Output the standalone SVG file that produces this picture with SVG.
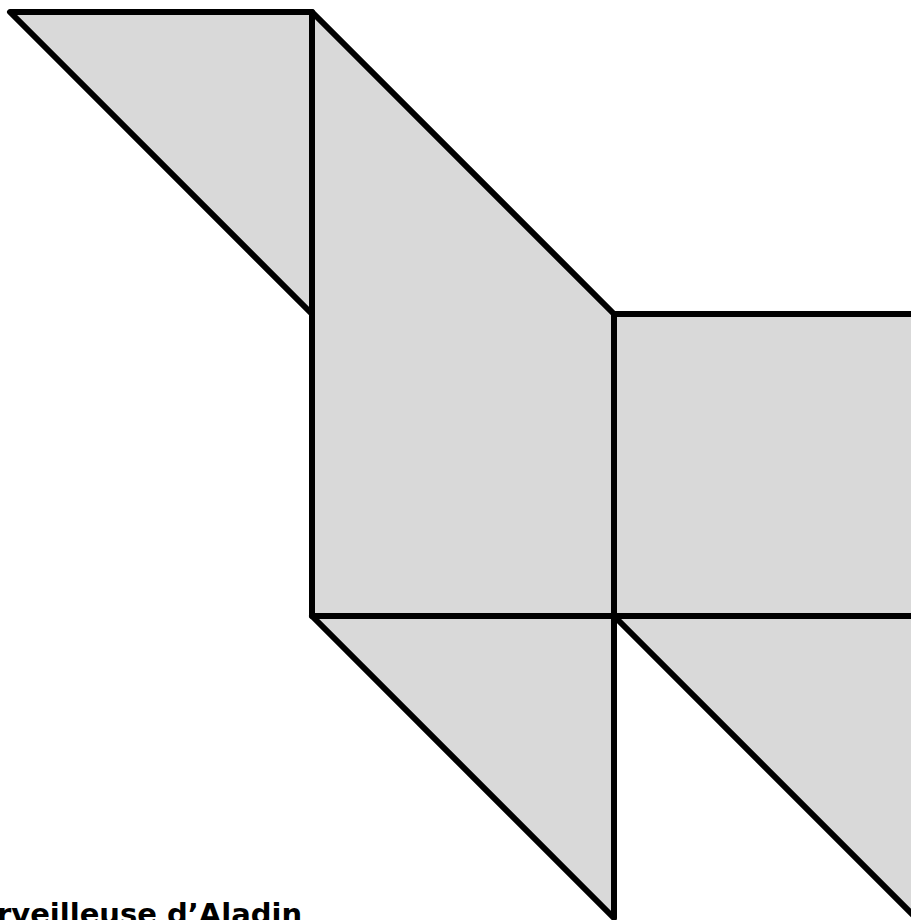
<svg xmlns="http://www.w3.org/2000/svg" width="911" height="920" viewBox="0 0 911 920">
<style>
.p{fill:#d9d9d9;stroke:#000;stroke-width:6;stroke-linejoin:round}
.t{font-family:"DejaVu Sans",Verdana,sans-serif;font-weight:bold;font-size:29px;fill:#000}
</style>
<rect width="911" height="920" fill="#fff"/>
<g id="piece-top-triangle"><polygon class="p" points="10,12 312,12 312,314"/></g>
<g id="piece-trapezoid"><polygon class="p" points="312,12 614,314 614,616 312,616"/></g>
<g id="piece-square"><polygon class="p" points="614,314 930,314 930,616 614,616"/></g>
<g id="piece-bottom-left-triangle"><polygon class="p" points="312,616 614,616 614,918"/></g>
<g id="piece-bottom-right-triangle"><polygon class="p" points="614,616 916,616 916,918"/></g>
<g id="connectors"></g>
<text class="t" x="-3" y="924">rveilleuse d’Aladin</text>
</svg>
